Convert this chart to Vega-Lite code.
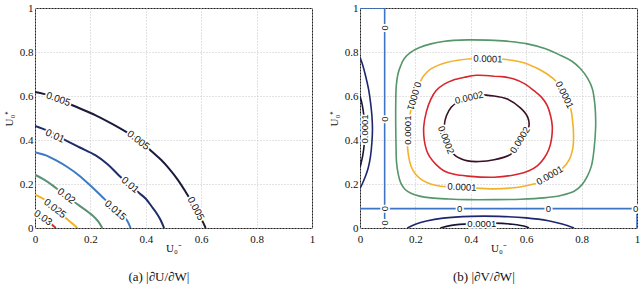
{
  "$schema": "https://vega.github.io/schema/vega-lite/v6.json",
  "background": "white",
  "padding": {"left": 2, "top": 1, "right": 2, "bottom": 0},
  "spacing": 48,
  "bounds": "flush",
  "resolve": {"scale": {"color": "independent"}},
  "config": {
    "view": {"stroke": "#222", "strokeWidth": 1},
    "axis": {
      "grid": true, "gridColor": "#c4c4c4", "gridDash": [1, 2], "gridWidth": 1,
      "domain": false, "ticks": false,
      "labelFont": "Liberation Serif", "labelFontSize": 11, "labelColor": "#111",
      "labelFlush": false, "labelOverlap": false,
      "titleFont": "Liberation Serif", "titleFontSize": 11, "titleFontWeight": "normal", "titleColor": "#111"
    },
    "axisX": {"labelPadding": 5, "titleX": 138.5, "titleY": 23, "titleBaseline": "alphabetic", "titleAlign": "center"},
    "axisY": {"labelPadding": 2, "titleX": -23, "titleY": 110, "titleBaseline": "alphabetic", "titleAlign": "center", "titleAngle": -90}
  },
  "datasets": {
    "aCurves": [
      {"level": "0.005", "i": 0, "x": 0, "y": 0.618},
      {"level": "0.005", "i": 1, "x": 0.06, "y": 0.599},
      {"level": "0.005", "i": 2, "x": 0.135, "y": 0.558},
      {"level": "0.005", "i": 3, "x": 0.219, "y": 0.512},
      {"level": "0.005", "i": 4, "x": 0.28, "y": 0.472},
      {"level": "0.005", "i": 5, "x": 0.339, "y": 0.429},
      {"level": "0.005", "i": 6, "x": 0.385, "y": 0.39},
      {"level": "0.005", "i": 7, "x": 0.424, "y": 0.345},
      {"level": "0.005", "i": 8, "x": 0.455, "y": 0.31},
      {"level": "0.005", "i": 9, "x": 0.484, "y": 0.27},
      {"level": "0.005", "i": 10, "x": 0.515, "y": 0.22},
      {"level": "0.005", "i": 11, "x": 0.544, "y": 0.164},
      {"level": "0.005", "i": 12, "x": 0.57, "y": 0.11},
      {"level": "0.005", "i": 13, "x": 0.592, "y": 0.058},
      {"level": "0.005", "i": 14, "x": 0.605, "y": 0.03},
      {"level": "0.005", "i": 15, "x": 0.616, "y": 0},
      {"level": "0.01", "i": 0, "x": 0, "y": 0.464},
      {"level": "0.01", "i": 1, "x": 0.05, "y": 0.44},
      {"level": "0.01", "i": 2, "x": 0.111, "y": 0.398},
      {"level": "0.01", "i": 3, "x": 0.16, "y": 0.367},
      {"level": "0.01", "i": 4, "x": 0.219, "y": 0.33},
      {"level": "0.01", "i": 5, "x": 0.262, "y": 0.29},
      {"level": "0.01", "i": 6, "x": 0.303, "y": 0.239},
      {"level": "0.01", "i": 7, "x": 0.343, "y": 0.195},
      {"level": "0.01", "i": 8, "x": 0.375, "y": 0.16},
      {"level": "0.01", "i": 9, "x": 0.4, "y": 0.133},
      {"level": "0.01", "i": 10, "x": 0.42, "y": 0.1},
      {"level": "0.01", "i": 11, "x": 0.436, "y": 0.073},
      {"level": "0.01", "i": 12, "x": 0.452, "y": 0.04},
      {"level": "0.01", "i": 13, "x": 0.466, "y": 0},
      {"level": "0.015", "i": 0, "x": 0, "y": 0.345},
      {"level": "0.015", "i": 1, "x": 0.04, "y": 0.33},
      {"level": "0.015", "i": 2, "x": 0.075, "y": 0.308},
      {"level": "0.015", "i": 3, "x": 0.118, "y": 0.276},
      {"level": "0.015", "i": 4, "x": 0.159, "y": 0.239},
      {"level": "0.015", "i": 5, "x": 0.2, "y": 0.193},
      {"level": "0.015", "i": 6, "x": 0.243, "y": 0.141},
      {"level": "0.015", "i": 7, "x": 0.27, "y": 0.108},
      {"level": "0.015", "i": 8, "x": 0.29, "y": 0.08},
      {"level": "0.015", "i": 9, "x": 0.315, "y": 0.06},
      {"level": "0.015", "i": 10, "x": 0.333, "y": 0.033},
      {"level": "0.015", "i": 11, "x": 0.345, "y": 0},
      {"level": "0.02", "i": 0, "x": 0, "y": 0.242},
      {"level": "0.02", "i": 1, "x": 0.03, "y": 0.222},
      {"level": "0.02", "i": 2, "x": 0.063, "y": 0.194},
      {"level": "0.02", "i": 3, "x": 0.113, "y": 0.145},
      {"level": "0.02", "i": 4, "x": 0.159, "y": 0.103},
      {"level": "0.02", "i": 5, "x": 0.207, "y": 0.058},
      {"level": "0.02", "i": 6, "x": 0.228, "y": 0.03},
      {"level": "0.02", "i": 7, "x": 0.243, "y": 0},
      {"level": "0.025", "i": 0, "x": 0, "y": 0.152},
      {"level": "0.025", "i": 1, "x": 0.04, "y": 0.125},
      {"level": "0.025", "i": 2, "x": 0.072, "y": 0.088},
      {"level": "0.025", "i": 3, "x": 0.111, "y": 0.045},
      {"level": "0.025", "i": 4, "x": 0.135, "y": 0.02},
      {"level": "0.025", "i": 5, "x": 0.153, "y": 0},
      {"level": "0.03", "i": 0, "x": 0, "y": 0.08},
      {"level": "0.03", "i": 1, "x": 0.029, "y": 0.046},
      {"level": "0.03", "i": 2, "x": 0.057, "y": 0.02},
      {"level": "0.03", "i": 3, "x": 0.075, "y": 0}
    ],
    "aLabels": [
      {"text": "0.005", "x": 0.084, "y": 0.585, "rot": 19},
      {"text": "0.005", "x": 0.373, "y": 0.398, "rot": 38},
      {"text": "0.005", "x": 0.58, "y": 0.088, "rot": 62},
      {"text": "0.01", "x": 0.072, "y": 0.418, "rot": 25},
      {"text": "0.01", "x": 0.343, "y": 0.195, "rot": 41},
      {"text": "0.015", "x": 0.29, "y": 0.08, "rot": 41},
      {"text": "0.02", "x": 0.113, "y": 0.145, "rot": 37},
      {"text": "0.025", "x": 0.072, "y": 0.088, "rot": 38},
      {"text": "0.03", "x": 0.029, "y": 0.046, "rot": 35}
    ],
    "bCurves": [
      {"curve": "z1", "tone": "zero", "i": 0, "x": 0.089, "y": 0},
      {"curve": "z1", "tone": "zero", "i": 1, "x": 0.089, "y": 1},
      {"curve": "z2", "tone": "zero", "i": 0, "x": 0, "y": 0.088},
      {"curve": "z2", "tone": "zero", "i": 1, "x": 1, "y": 0.088},
      {"curve": "z3", "tone": "zero", "i": 0, "x": 0, "y": 1},
      {"curve": "z3", "tone": "zero", "i": 1, "x": 0.089, "y": 1},
      {"curve": "z4", "tone": "zero", "i": 0, "x": 1, "y": 0},
      {"curve": "z4", "tone": "zero", "i": 1, "x": 1, "y": 0.088},

      {"curve": "c1", "tone": "green", "i": 0, "x": 0.484, "y": 0.853},
      {"curve": "c1", "tone": "green", "i": 1, "x": 0.389, "y": 0.855},
      {"curve": "c1", "tone": "green", "i": 2, "x": 0.3, "y": 0.848},
      {"curve": "c1", "tone": "green", "i": 3, "x": 0.256, "y": 0.837},
      {"curve": "c1", "tone": "green", "i": 4, "x": 0.215, "y": 0.82},
      {"curve": "c1", "tone": "green", "i": 5, "x": 0.184, "y": 0.799},
      {"curve": "c1", "tone": "green", "i": 6, "x": 0.16, "y": 0.77},
      {"curve": "c1", "tone": "green", "i": 7, "x": 0.147, "y": 0.738},
      {"curve": "c1", "tone": "green", "i": 8, "x": 0.137, "y": 0.7},
      {"curve": "c1", "tone": "green", "i": 9, "x": 0.131, "y": 0.647},
      {"curve": "c1", "tone": "green", "i": 10, "x": 0.129, "y": 0.56},
      {"curve": "c1", "tone": "green", "i": 11, "x": 0.129, "y": 0.464},
      {"curve": "c1", "tone": "green", "i": 12, "x": 0.13, "y": 0.38},
      {"curve": "c1", "tone": "green", "i": 13, "x": 0.132, "y": 0.297},
      {"curve": "c1", "tone": "green", "i": 14, "x": 0.138, "y": 0.245},
      {"curve": "c1", "tone": "green", "i": 15, "x": 0.147, "y": 0.205},
      {"curve": "c1", "tone": "green", "i": 16, "x": 0.163, "y": 0.175},
      {"curve": "c1", "tone": "green", "i": 17, "x": 0.184, "y": 0.158},
      {"curve": "c1", "tone": "green", "i": 18, "x": 0.215, "y": 0.145},
      {"curve": "c1", "tone": "green", "i": 19, "x": 0.256, "y": 0.137},
      {"curve": "c1", "tone": "green", "i": 20, "x": 0.32, "y": 0.132},
      {"curve": "c1", "tone": "green", "i": 21, "x": 0.389, "y": 0.129},
      {"curve": "c1", "tone": "green", "i": 22, "x": 0.484, "y": 0.129},
      {"curve": "c1", "tone": "green", "i": 23, "x": 0.58, "y": 0.131},
      {"curve": "c1", "tone": "green", "i": 24, "x": 0.664, "y": 0.137},
      {"curve": "c1", "tone": "green", "i": 25, "x": 0.725, "y": 0.148},
      {"curve": "c1", "tone": "green", "i": 26, "x": 0.773, "y": 0.167},
      {"curve": "c1", "tone": "green", "i": 27, "x": 0.8, "y": 0.195},
      {"curve": "c1", "tone": "green", "i": 28, "x": 0.821, "y": 0.236},
      {"curve": "c1", "tone": "green", "i": 29, "x": 0.835, "y": 0.28},
      {"curve": "c1", "tone": "green", "i": 30, "x": 0.842, "y": 0.327},
      {"curve": "c1", "tone": "green", "i": 31, "x": 0.848, "y": 0.4},
      {"curve": "c1", "tone": "green", "i": 32, "x": 0.851, "y": 0.479},
      {"curve": "c1", "tone": "green", "i": 33, "x": 0.848, "y": 0.56},
      {"curve": "c1", "tone": "green", "i": 34, "x": 0.839, "y": 0.632},
      {"curve": "c1", "tone": "green", "i": 35, "x": 0.822, "y": 0.68},
      {"curve": "c1", "tone": "green", "i": 36, "x": 0.797, "y": 0.723},
      {"curve": "c1", "tone": "green", "i": 37, "x": 0.765, "y": 0.758},
      {"curve": "c1", "tone": "green", "i": 38, "x": 0.725, "y": 0.784},
      {"curve": "c1", "tone": "green", "i": 39, "x": 0.67, "y": 0.815},
      {"curve": "c1", "tone": "green", "i": 40, "x": 0.604, "y": 0.837},
      {"curve": "c1", "tone": "green", "i": 41, "x": 0.54, "y": 0.848},
      {"curve": "c1", "tone": "green", "i": 42, "x": 0.484, "y": 0.853},

      {"curve": "c2", "tone": "orange", "i": 0, "x": 0.484, "y": 0.769},
      {"curve": "c2", "tone": "orange", "i": 1, "x": 0.401, "y": 0.769},
      {"curve": "c2", "tone": "orange", "i": 2, "x": 0.316, "y": 0.753},
      {"curve": "c2", "tone": "orange", "i": 3, "x": 0.256, "y": 0.723},
      {"curve": "c2", "tone": "orange", "i": 4, "x": 0.23, "y": 0.692},
      {"curve": "c2", "tone": "orange", "i": 5, "x": 0.214, "y": 0.654},
      {"curve": "c2", "tone": "orange", "i": 6, "x": 0.195, "y": 0.6},
      {"curve": "c2", "tone": "orange", "i": 7, "x": 0.184, "y": 0.54},
      {"curve": "c2", "tone": "orange", "i": 8, "x": 0.175, "y": 0.46},
      {"curve": "c2", "tone": "orange", "i": 9, "x": 0.171, "y": 0.388},
      {"curve": "c2", "tone": "orange", "i": 10, "x": 0.175, "y": 0.33},
      {"curve": "c2", "tone": "orange", "i": 11, "x": 0.184, "y": 0.282},
      {"curve": "c2", "tone": "orange", "i": 12, "x": 0.2, "y": 0.245},
      {"curve": "c2", "tone": "orange", "i": 13, "x": 0.222, "y": 0.22},
      {"curve": "c2", "tone": "orange", "i": 14, "x": 0.255, "y": 0.2},
      {"curve": "c2", "tone": "orange", "i": 15, "x": 0.292, "y": 0.19},
      {"curve": "c2", "tone": "orange", "i": 16, "x": 0.389, "y": 0.183},
      {"curve": "c2", "tone": "orange", "i": 17, "x": 0.484, "y": 0.178},
      {"curve": "c2", "tone": "orange", "i": 18, "x": 0.556, "y": 0.183},
      {"curve": "c2", "tone": "orange", "i": 19, "x": 0.6, "y": 0.192},
      {"curve": "c2", "tone": "orange", "i": 20, "x": 0.64, "y": 0.205},
      {"curve": "c2", "tone": "orange", "i": 21, "x": 0.69, "y": 0.235},
      {"curve": "c2", "tone": "orange", "i": 22, "x": 0.73, "y": 0.27},
      {"curve": "c2", "tone": "orange", "i": 23, "x": 0.755, "y": 0.31},
      {"curve": "c2", "tone": "orange", "i": 24, "x": 0.768, "y": 0.36},
      {"curve": "c2", "tone": "orange", "i": 25, "x": 0.771, "y": 0.419},
      {"curve": "c2", "tone": "orange", "i": 26, "x": 0.768, "y": 0.48},
      {"curve": "c2", "tone": "orange", "i": 27, "x": 0.761, "y": 0.54},
      {"curve": "c2", "tone": "orange", "i": 28, "x": 0.738, "y": 0.605},
      {"curve": "c2", "tone": "orange", "i": 29, "x": 0.717, "y": 0.654},
      {"curve": "c2", "tone": "orange", "i": 30, "x": 0.676, "y": 0.7},
      {"curve": "c2", "tone": "orange", "i": 31, "x": 0.604, "y": 0.746},
      {"curve": "c2", "tone": "orange", "i": 32, "x": 0.54, "y": 0.764},
      {"curve": "c2", "tone": "orange", "i": 33, "x": 0.484, "y": 0.769},

      {"curve": "c3", "tone": "red", "i": 0, "x": 0.484, "y": 0.69},
      {"curve": "c3", "tone": "red", "i": 1, "x": 0.42, "y": 0.694},
      {"curve": "c3", "tone": "red", "i": 2, "x": 0.377, "y": 0.685},
      {"curve": "c3", "tone": "red", "i": 3, "x": 0.335, "y": 0.672},
      {"curve": "c3", "tone": "red", "i": 4, "x": 0.304, "y": 0.654},
      {"curve": "c3", "tone": "red", "i": 5, "x": 0.275, "y": 0.625},
      {"curve": "c3", "tone": "red", "i": 6, "x": 0.256, "y": 0.586},
      {"curve": "c3", "tone": "red", "i": 7, "x": 0.24, "y": 0.53},
      {"curve": "c3", "tone": "red", "i": 8, "x": 0.23, "y": 0.46},
      {"curve": "c3", "tone": "red", "i": 9, "x": 0.232, "y": 0.4},
      {"curve": "c3", "tone": "red", "i": 10, "x": 0.24, "y": 0.355},
      {"curve": "c3", "tone": "red", "i": 11, "x": 0.252, "y": 0.323},
      {"curve": "c3", "tone": "red", "i": 12, "x": 0.274, "y": 0.289},
      {"curve": "c3", "tone": "red", "i": 13, "x": 0.304, "y": 0.259},
      {"curve": "c3", "tone": "red", "i": 14, "x": 0.34, "y": 0.244},
      {"curve": "c3", "tone": "red", "i": 15, "x": 0.389, "y": 0.236},
      {"curve": "c3", "tone": "red", "i": 16, "x": 0.484, "y": 0.231},
      {"curve": "c3", "tone": "red", "i": 17, "x": 0.568, "y": 0.244},
      {"curve": "c3", "tone": "red", "i": 18, "x": 0.61, "y": 0.26},
      {"curve": "c3", "tone": "red", "i": 19, "x": 0.64, "y": 0.282},
      {"curve": "c3", "tone": "red", "i": 20, "x": 0.665, "y": 0.318},
      {"curve": "c3", "tone": "red", "i": 21, "x": 0.682, "y": 0.358},
      {"curve": "c3", "tone": "red", "i": 22, "x": 0.692, "y": 0.41},
      {"curve": "c3", "tone": "red", "i": 23, "x": 0.694, "y": 0.464},
      {"curve": "c3", "tone": "red", "i": 24, "x": 0.688, "y": 0.51},
      {"curve": "c3", "tone": "red", "i": 25, "x": 0.676, "y": 0.556},
      {"curve": "c3", "tone": "red", "i": 26, "x": 0.655, "y": 0.595},
      {"curve": "c3", "tone": "red", "i": 27, "x": 0.628, "y": 0.624},
      {"curve": "c3", "tone": "red", "i": 28, "x": 0.595, "y": 0.655},
      {"curve": "c3", "tone": "red", "i": 29, "x": 0.556, "y": 0.677},
      {"curve": "c3", "tone": "red", "i": 30, "x": 0.52, "y": 0.687},
      {"curve": "c3", "tone": "red", "i": 31, "x": 0.484, "y": 0.69},

      {"curve": "c4", "tone": "dark", "i": 0, "x": 0.484, "y": 0.6},
      {"curve": "c4", "tone": "dark", "i": 1, "x": 0.43, "y": 0.605},
      {"curve": "c4", "tone": "dark", "i": 2, "x": 0.394, "y": 0.595},
      {"curve": "c4", "tone": "dark", "i": 3, "x": 0.36, "y": 0.578},
      {"curve": "c4", "tone": "dark", "i": 4, "x": 0.33, "y": 0.55},
      {"curve": "c4", "tone": "dark", "i": 5, "x": 0.312, "y": 0.51},
      {"curve": "c4", "tone": "dark", "i": 6, "x": 0.304, "y": 0.464},
      {"curve": "c4", "tone": "dark", "i": 7, "x": 0.306, "y": 0.42},
      {"curve": "c4", "tone": "dark", "i": 8, "x": 0.312, "y": 0.395},
      {"curve": "c4", "tone": "dark", "i": 9, "x": 0.32, "y": 0.365},
      {"curve": "c4", "tone": "dark", "i": 10, "x": 0.345, "y": 0.328},
      {"curve": "c4", "tone": "dark", "i": 11, "x": 0.389, "y": 0.305},
      {"curve": "c4", "tone": "dark", "i": 12, "x": 0.43, "y": 0.302},
      {"curve": "c4", "tone": "dark", "i": 13, "x": 0.484, "y": 0.31},
      {"curve": "c4", "tone": "dark", "i": 14, "x": 0.544, "y": 0.335},
      {"curve": "c4", "tone": "dark", "i": 15, "x": 0.562, "y": 0.365},
      {"curve": "c4", "tone": "dark", "i": 16, "x": 0.58, "y": 0.4},
      {"curve": "c4", "tone": "dark", "i": 17, "x": 0.598, "y": 0.432},
      {"curve": "c4", "tone": "dark", "i": 18, "x": 0.61, "y": 0.464},
      {"curve": "c4", "tone": "dark", "i": 19, "x": 0.605, "y": 0.505},
      {"curve": "c4", "tone": "dark", "i": 20, "x": 0.58, "y": 0.545},
      {"curve": "c4", "tone": "dark", "i": 21, "x": 0.532, "y": 0.586},
      {"curve": "c4", "tone": "dark", "i": 22, "x": 0.484, "y": 0.6},

      {"curve": "l1", "tone": "navy", "i": 0, "x": 0, "y": 0.776},
      {"curve": "l1", "tone": "navy", "i": 1, "x": 0.01, "y": 0.74},
      {"curve": "l1", "tone": "navy", "i": 2, "x": 0.02, "y": 0.692},
      {"curve": "l1", "tone": "navy", "i": 3, "x": 0.031, "y": 0.63},
      {"curve": "l1", "tone": "navy", "i": 4, "x": 0.038, "y": 0.571},
      {"curve": "l1", "tone": "navy", "i": 5, "x": 0.043, "y": 0.51},
      {"curve": "l1", "tone": "navy", "i": 6, "x": 0.045, "y": 0.449},
      {"curve": "l1", "tone": "navy", "i": 7, "x": 0.043, "y": 0.39},
      {"curve": "l1", "tone": "navy", "i": 8, "x": 0.038, "y": 0.327},
      {"curve": "l1", "tone": "navy", "i": 9, "x": 0.03, "y": 0.275},
      {"curve": "l1", "tone": "navy", "i": 10, "x": 0.02, "y": 0.236},
      {"curve": "l1", "tone": "navy", "i": 11, "x": 0.008, "y": 0.2},
      {"curve": "l1", "tone": "navy", "i": 12, "x": 0, "y": 0.18},

      {"curve": "l2", "tone": "ink", "i": 0, "x": 0, "y": 0.6},
      {"curve": "l2", "tone": "ink", "i": 1, "x": 0.008, "y": 0.56},
      {"curve": "l2", "tone": "ink", "i": 2, "x": 0.014, "y": 0.51},
      {"curve": "l2", "tone": "ink", "i": 3, "x": 0.018, "y": 0.45},
      {"curve": "l2", "tone": "ink", "i": 4, "x": 0.016, "y": 0.39},
      {"curve": "l2", "tone": "ink", "i": 5, "x": 0.01, "y": 0.33},
      {"curve": "l2", "tone": "ink", "i": 6, "x": 0.003, "y": 0.29},
      {"curve": "l2", "tone": "ink", "i": 7, "x": 0, "y": 0.275},

      {"curve": "b1", "tone": "navy", "i": 0, "x": 0.171, "y": 0},
      {"curve": "b1", "tone": "navy", "i": 1, "x": 0.2, "y": 0.017},
      {"curve": "b1", "tone": "navy", "i": 2, "x": 0.24, "y": 0.032},
      {"curve": "b1", "tone": "navy", "i": 3, "x": 0.3, "y": 0.045},
      {"curve": "b1", "tone": "navy", "i": 4, "x": 0.4, "y": 0.053},
      {"curve": "b1", "tone": "navy", "i": 5, "x": 0.5, "y": 0.053},
      {"curve": "b1", "tone": "navy", "i": 6, "x": 0.6, "y": 0.046},
      {"curve": "b1", "tone": "navy", "i": 7, "x": 0.68, "y": 0.033},
      {"curve": "b1", "tone": "navy", "i": 8, "x": 0.73, "y": 0.018},
      {"curve": "b1", "tone": "navy", "i": 9, "x": 0.773, "y": 0},

      {"curve": "b2", "tone": "ink", "i": 0, "x": 0.29, "y": 0},
      {"curve": "b2", "tone": "ink", "i": 1, "x": 0.33, "y": 0.012},
      {"curve": "b2", "tone": "ink", "i": 2, "x": 0.4, "y": 0.02},
      {"curve": "b2", "tone": "ink", "i": 3, "x": 0.48, "y": 0.022},
      {"curve": "b2", "tone": "ink", "i": 4, "x": 0.55, "y": 0.017},
      {"curve": "b2", "tone": "ink", "i": 5, "x": 0.6, "y": 0.006},
      {"curve": "b2", "tone": "ink", "i": 6, "x": 0.61, "y": 0}
    ],
    "bLabels": [
      {"text": "0.0001", "x": 0.462, "y": 0.768, "rot": 2},
      {"text": "0.0001", "x": 0.195, "y": 0.6, "rot": 106},
      {"text": "0.0001", "x": 0.173, "y": 0.445, "rot": -90},
      {"text": "0.0001", "x": 0.738, "y": 0.605, "rot": 64},
      {"text": "0.0001", "x": 0.685, "y": 0.238, "rot": -30},
      {"text": "0.0001", "x": 0.368, "y": 0.185, "rot": 3},
      {"text": "0.0002", "x": 0.394, "y": 0.592, "rot": -13},
      {"text": "0.0002", "x": 0.31, "y": 0.4, "rot": 69},
      {"text": "0.0002", "x": 0.578, "y": 0.4, "rot": -58},
      {"text": "0.0001", "x": 0.018, "y": 0.45, "rot": -90},
      {"text": "0.0001", "x": 0.44, "y": 0.02, "rot": 0},
      {"text": "0", "x": 0.089, "y": 0.91, "rot": 90},
      {"text": "0", "x": 0.089, "y": 0.495, "rot": 90},
      {"text": "0", "x": 0.089, "y": 0.088, "rot": 90},
      {"text": "0", "x": 0.089, "y": 0.023, "rot": 90},
      {"text": "0", "x": 0.36, "y": 0.088, "rot": 0},
      {"text": "0", "x": 0.68, "y": 0.088, "rot": 0},
      {"text": "0", "x": 0.995, "y": 0.088, "rot": 0}
    ]
  },
  "hconcat": [
    {
      "width": 277,
      "height": 220,
      "title": {"text": "(a) |∂U/∂W|", "orient": "bottom", "frame": "bounds", "anchor": "middle", "font": "Liberation Serif", "fontSize": 13, "fontWeight": "normal", "color": "#111", "offset": 18},
      "layer": [
        {
          "data": {"name": "aCurves"},
          "mark": {"type": "line", "strokeWidth": 2, "clip": true, "interpolate": "catmull-rom"},
          "encoding": {
            "x": {"field": "x", "type": "quantitative", "scale": {"domain": [0, 1], "nice": false, "zero": false}, "axis": {"values": [0, 0.2, 0.4, 0.6, 0.8, 1], "format": "~g", "title": "U₀⁻"}},
            "y": {"field": "y", "type": "quantitative", "scale": {"domain": [0, 1], "nice": false, "zero": false}, "axis": {"values": [0, 0.2, 0.4, 0.6, 0.8, 1], "format": "~g", "title": "U₀⁺"}},
            "color": {"field": "level", "type": "nominal", "legend": null, "scale": {"domain": ["0.005", "0.01", "0.015", "0.02", "0.025", "0.03"], "range": ["#1a1a3c", "#1f2c6c", "#3b7bc6", "#5b9174", "#f4b11f", "#d42a2a"]}},
            "order": {"field": "i", "type": "quantitative"}
          }
        },
        {
          "data": {"name": "aLabels"},
          "mark": {"type": "text", "font": "Liberation Sans", "fontSize": 10, "fill": "white", "stroke": "white", "strokeWidth": 3.5, "strokeJoin": "round"},
          "encoding": {
            "x": {"field": "x", "type": "quantitative"},
            "y": {"field": "y", "type": "quantitative"},
            "text": {"field": "text"},
            "angle": {"field": "rot", "type": "quantitative", "scale": null}
          }
        },
        {
          "data": {"name": "aLabels"},
          "mark": {"type": "text", "font": "Liberation Sans", "fontSize": 10, "color": "#111"},
          "encoding": {
            "x": {"field": "x", "type": "quantitative"},
            "y": {"field": "y", "type": "quantitative"},
            "text": {"field": "text"},
            "angle": {"field": "rot", "type": "quantitative", "scale": null}
          }
        }
      ]
    },
    {
      "width": 277,
      "height": 220,
      "title": {"text": "(b) |∂V/∂W|", "orient": "bottom", "frame": "bounds", "anchor": "middle", "font": "Liberation Serif", "fontSize": 13, "fontWeight": "normal", "color": "#111", "offset": 18},
      "layer": [
        {
          "data": {"name": "bCurves"},
          "mark": {"type": "line", "strokeWidth": 1.6, "clip": true, "interpolate": "catmull-rom"},
          "encoding": {
            "x": {"field": "x", "type": "quantitative", "scale": {"domain": [0, 1], "nice": false, "zero": false}, "axis": {"values": [0, 0.2, 0.4, 0.6, 0.8, 1], "format": "~g", "title": "U₀⁻"}},
            "y": {"field": "y", "type": "quantitative", "scale": {"domain": [0, 1], "nice": false, "zero": false}, "axis": {"values": [0, 0.2, 0.4, 0.6, 0.8, 1], "format": "~g", "title": "U₀⁺"}},
            "color": {"field": "tone", "type": "nominal", "legend": null, "scale": {"domain": ["zero", "green", "orange", "red", "dark", "navy", "ink"], "range": ["#3d74c4", "#55966a", "#f3b22c", "#d8262d", "#3a1024", "#1e2670", "#16163a"]}},
            "detail": {"field": "curve"},
            "order": {"field": "i", "type": "quantitative"}
          }
        },
        {
          "data": {"name": "bLabels"},
          "mark": {"type": "text", "font": "Liberation Sans", "fontSize": 9.5, "fill": "white", "stroke": "white", "strokeWidth": 3.5, "strokeJoin": "round"},
          "encoding": {
            "x": {"field": "x", "type": "quantitative"},
            "y": {"field": "y", "type": "quantitative"},
            "text": {"field": "text"},
            "angle": {"field": "rot", "type": "quantitative", "scale": null}
          }
        },
        {
          "data": {"name": "bLabels"},
          "mark": {"type": "text", "font": "Liberation Sans", "fontSize": 9.5, "color": "#111"},
          "encoding": {
            "x": {"field": "x", "type": "quantitative"},
            "y": {"field": "y", "type": "quantitative"},
            "text": {"field": "text"},
            "angle": {"field": "rot", "type": "quantitative", "scale": null}
          }
        }
      ]
    }
  ]
}
